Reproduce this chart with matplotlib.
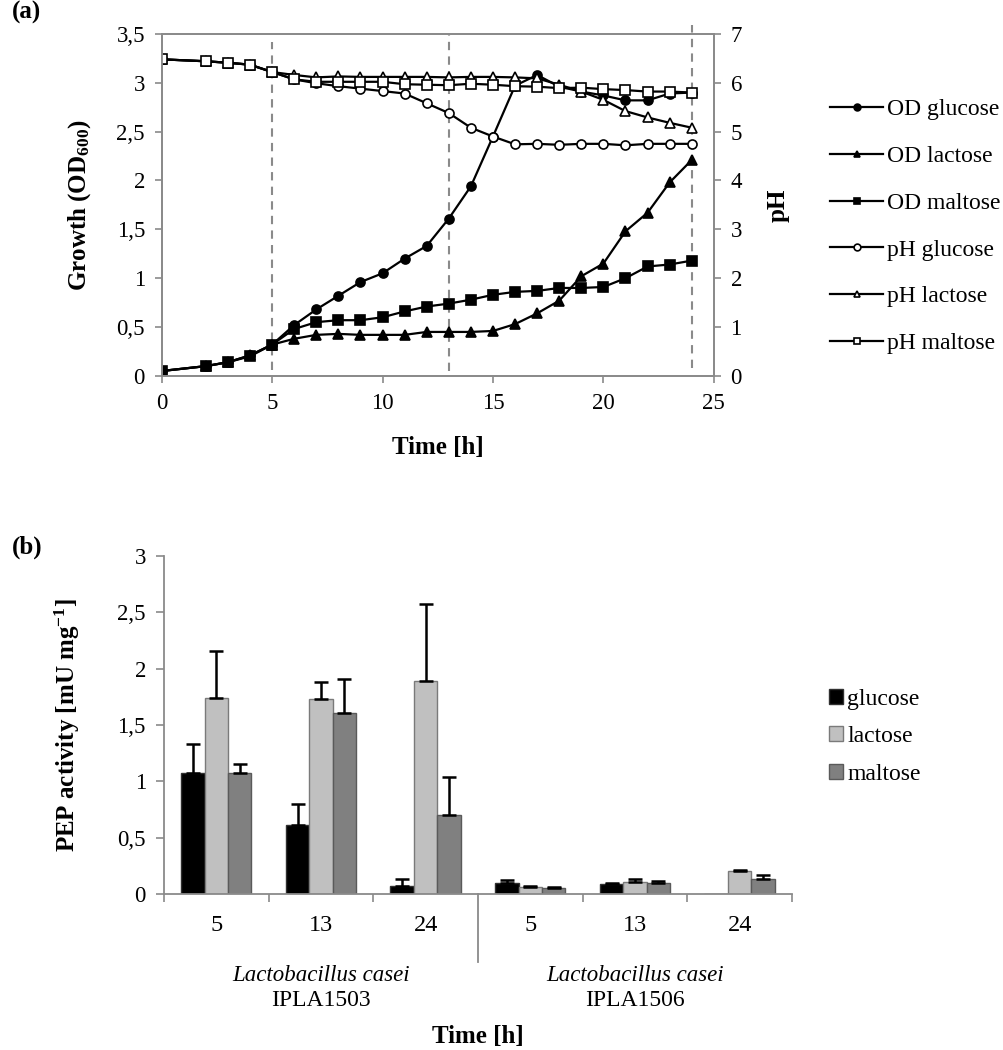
import numpy as np
import matplotlib
matplotlib.use("Agg")
import matplotlib.pyplot as plt
from matplotlib.ticker import FuncFormatter
from matplotlib.patches import Patch

plt.rcParams['font.family'] = ['Liberation Serif', 'DejaVu Serif']
plt.rcParams['mathtext.fontset'] = 'custom'
plt.rcParams['mathtext.rm'] = 'Liberation Serif'
plt.rcParams['mathtext.bf'] = 'Liberation Serif:bold'
plt.rcParams['mathtext.it'] = 'Liberation Serif:italic'

# -----------------------------
# data (a): growth and pH
# -----------------------------
time_h = [0, 2, 3, 4, 5, 6, 7, 8, 9, 10, 11, 12, 13, 14, 15, 16, 17, 18, 19, 20, 21, 22, 23, 24]

od_glucose = [0.05, 0.10, 0.14, 0.21, 0.32, 0.52, 0.68, 0.82, 0.96, 1.05, 1.20, 1.33,
              1.61, 1.94, 2.45, 2.97, 3.08, 2.96, 2.91, 2.87, 2.82, 2.82, 2.89, 2.90]
od_lactose = [0.05, 0.10, 0.14, 0.21, 0.32, 0.38, 0.42, 0.43, 0.42, 0.42, 0.42, 0.45,
              0.45, 0.45, 0.46, 0.53, 0.64, 0.77, 1.02, 1.15, 1.48, 1.67, 1.98, 2.21]
od_maltose = [0.05, 0.10, 0.14, 0.20, 0.32, 0.48, 0.55, 0.57, 0.57, 0.60, 0.66, 0.71,
              0.74, 0.78, 0.83, 0.86, 0.87, 0.90, 0.90, 0.91, 1.00, 1.12, 1.14, 1.18]

ph_glucose = [6.48, 6.44, 6.41, 6.37, 6.22, 6.07, 5.99, 5.93, 5.88, 5.83, 5.78, 5.58,
              5.38, 5.08, 4.90, 4.74, 4.75, 4.73, 4.75, 4.75, 4.72, 4.75, 4.75, 4.75]
ph_lactose = [6.48, 6.44, 6.41, 6.37, 6.22, 6.16, 6.11, 6.13, 6.12, 6.12, 6.12, 6.12,
              6.11, 6.12, 6.12, 6.11, 6.09, 5.96, 5.82, 5.65, 5.42, 5.29, 5.18, 5.08]
ph_maltose = [6.48, 6.44, 6.41, 6.37, 6.22, 6.07, 6.02, 6.02, 6.02, 6.02, 5.97, 5.96,
              5.95, 5.98, 5.96, 5.93, 5.92, 5.89, 5.90, 5.87, 5.85, 5.82, 5.82, 5.80]

sampling_h = [5, 13, 24]

# -----------------------------
# data (b): PEP activity
# -----------------------------
strains = ['IPLA1503', 'IPLA1506']
time_labels = ['5', '13', '24', '5', '13', '24']

pep_glucose = [1.07, 0.615, 0.07, 0.10, 0.09, 0.0]
pep_glucose_err = [0.265, 0.185, 0.06, 0.025, 0.008, 0.0]
pep_lactose = [1.74, 1.73, 1.89, 0.065, 0.105, 0.20]
pep_lactose_err = [0.415, 0.15, 0.68, 0.008, 0.03, 0.01]
pep_maltose = [1.07, 1.605, 0.70, 0.05, 0.095, 0.13]
pep_maltose_err = [0.087, 0.30, 0.34, 0.008, 0.022, 0.04]

GRAY = '#8a8a8a'
FS_TICK = 16.5
FS_LAB = 18
FS_LEG = 17


def comma(v, pos):
    return f'{v:g}'.replace('.', ',')


fig = plt.figure(figsize=(10.04, 10.5), dpi=100)

# -----------------------------
# (a)
# -----------------------------
ax = fig.add_axes([0.161, 0.642, 0.550, 0.3257])
ax2 = ax.twinx()

line_kw = dict(color='black', lw=1.6, ms=6.5, mec='black', mew=1.2)
ax.plot(time_h, od_glucose, marker='o', mfc='black', label='OD glucose', **line_kw)
ax.plot(time_h, od_lactose, marker='^', mfc='black', label='OD lactose', **line_kw)
ax.plot(time_h, od_maltose, marker='s', mfc='black', label='OD maltose', **line_kw)
ax2.plot(time_h, ph_glucose, marker='o', mfc='white', label='pH glucose', **line_kw)
ax2.plot(time_h, ph_lactose, marker='^', mfc='white', label='pH lactose', **line_kw)
ax2.plot(time_h, ph_maltose, marker='s', mfc='white', label='pH maltose', **line_kw)

extents = [(0.017, 0.977), (0.013, 0.997), (0.023, 1.025)]
for t, (y0, y1) in zip(sampling_h, extents):
    ax.axvline(t, ymin=y0, ymax=y1, color=GRAY, ls=(0, (4, 3)), lw=1.5, clip_on=False, zorder=0)

ax.set_xlim(0, 25)
ax.set_ylim(0, 3.5)
ax2.set_ylim(0, 7)
ax.set_xticks([0, 5, 10, 15, 20, 25])
ax.set_yticks(np.arange(0, 3.51, 0.5))
ax2.set_yticks(range(0, 8))
ax.yaxis.set_major_formatter(FuncFormatter(comma))

for a in (ax, ax2):
    for s in a.spines.values():
        s.set_color(GRAY)
        s.set_linewidth(1.3)
    a.tick_params(direction='out', length=5, width=1.2, color=GRAY, labelsize=FS_TICK, pad=7)

ax.set_xlabel('Time [h]', fontsize=FS_LAB, fontweight='bold')
ax.xaxis.set_label_coords(0.5, -0.208)
ax.xaxis.label.set_va('center')
ax.set_ylabel(r'Growth (OD$_{\mathbf{600}}$)', fontsize=FS_LAB, fontweight='bold')
ax.yaxis.set_label_coords(-0.148, 0.5)
ax.yaxis.label.set_va('center')
ax2.set_ylabel('pH', fontsize=FS_LAB, fontweight='bold')
ax2.yaxis.set_label_coords(1.116, 0.5)
ax2.yaxis.label.set_va('center')

h1, l1 = ax.get_legend_handles_labels()
h2, l2 = ax2.get_legend_handles_labels()
ax2.legend(h1 + h2, l1 + l2, loc='upper left', bbox_to_anchor=(0.8267, 0.906),
           bbox_transform=fig.transFigure, frameon=False, fontsize=FS_LEG, borderpad=0,
           borderaxespad=0, handlelength=2.25, handletextpad=0.17, labelspacing=1.07,
           markerscale=0.75)

fig.text(0.012, 0.988, '(a)', fontsize=18, fontweight='bold', va='center')

# -----------------------------
# (b)
# -----------------------------
bx = fig.add_axes([0.1633, 0.1486, 0.6255, 0.3219])
xc = np.arange(len(time_labels)) + 0.5
w = 0.224

series = [
    (pep_glucose, pep_glucose_err, 'black', '#303030', 'glucose', -w),
    (pep_lactose, pep_lactose_err, '#c0c0c0', '#7a7a7a', 'lactose', 0.0),
    (pep_maltose, pep_maltose_err, '#808080', '#5a5a5a', 'maltose', w),
]
for vals, errs, fc, ec, name, off in series:
    vals = np.array(vals)
    errs = np.array(errs)
    bx.bar(xc + off, vals, w, color=fc, edgecolor=ec, lw=1.0, zorder=2)
    m = vals > 0
    bx.errorbar(xc[m] + off, vals[m], yerr=[np.zeros(m.sum()), errs[m]], fmt='none',
                ecolor='black', elinewidth=1.8, capsize=5, capthick=1.8, zorder=3)

bx.set_xlim(0, 6)
bx.set_ylim(0, 3)
bx.set_yticks(np.arange(0, 3.01, 0.5))
bx.yaxis.set_major_formatter(FuncFormatter(comma))
bx.set_xticks(xc)
bx.set_xticklabels(time_labels)
bx.set_xticks([0, 1, 2, 4, 5, 6], minor=True)
bx.tick_params(axis='x', which='major', length=0, pad=15.5, labelsize=FS_TICK + 1)
bx.tick_params(axis='x', which='minor', direction='out', length=6, width=1.2, color=GRAY)
bx.tick_params(axis='y', direction='out', length=6, width=1.2, color=GRAY, labelsize=FS_TICK, pad=7)
for k in ('top', 'right'):
    bx.spines[k].set_visible(False)
for k in ('left', 'bottom'):
    bx.spines[k].set_color(GRAY)
    bx.spines[k].set_linewidth(1.3)

# separator between strains
bx.plot([3, 3], [0, -0.2], transform=bx.get_xaxis_transform(), color=GRAY, lw=1.3, clip_on=False)

for i, s in enumerate(strains):
    bx.text(1.5 + 3 * i, -0.24, 'Lactobacillus casei', transform=bx.get_xaxis_transform(),
            ha='center', va='center', fontsize=FS_TICK, style='italic')
    bx.text(1.5 + 3 * i, -0.314, s, transform=bx.get_xaxis_transform(),
            ha='center', va='center', fontsize=FS_TICK + 0.5)

bx.text(3, -0.423, 'Time [h]', transform=bx.get_xaxis_transform(), ha='center', va='center',
        fontsize=FS_LAB, fontweight='bold')
bx.set_ylabel(r'PEP activity [mU mg$^{\mathbf{-1}}$]', fontsize=FS_LAB, fontweight='bold')
bx.yaxis.set_label_coords(-0.154, 0.5)
bx.yaxis.label.set_va('center')

handles = [Patch(facecolor=fc, edgecolor=ec) for _, _, fc, ec, _, _ in series]
names = [n for _, _, _, _, n, _ in series]
bx.legend(handles, names, loc='upper left', bbox_to_anchor=(0.8257, 0.3438),
          bbox_transform=fig.transFigure, frameon=False, fontsize=FS_LEG, borderpad=0,
          borderaxespad=0, handlelength=0.6, handleheight=0.6, handletextpad=0.17,
          labelspacing=0.69)

fig.text(0.012, 0.479, '(b)', fontsize=18, fontweight='bold', va='center')

fig.savefig('out.png', dpi=100)
